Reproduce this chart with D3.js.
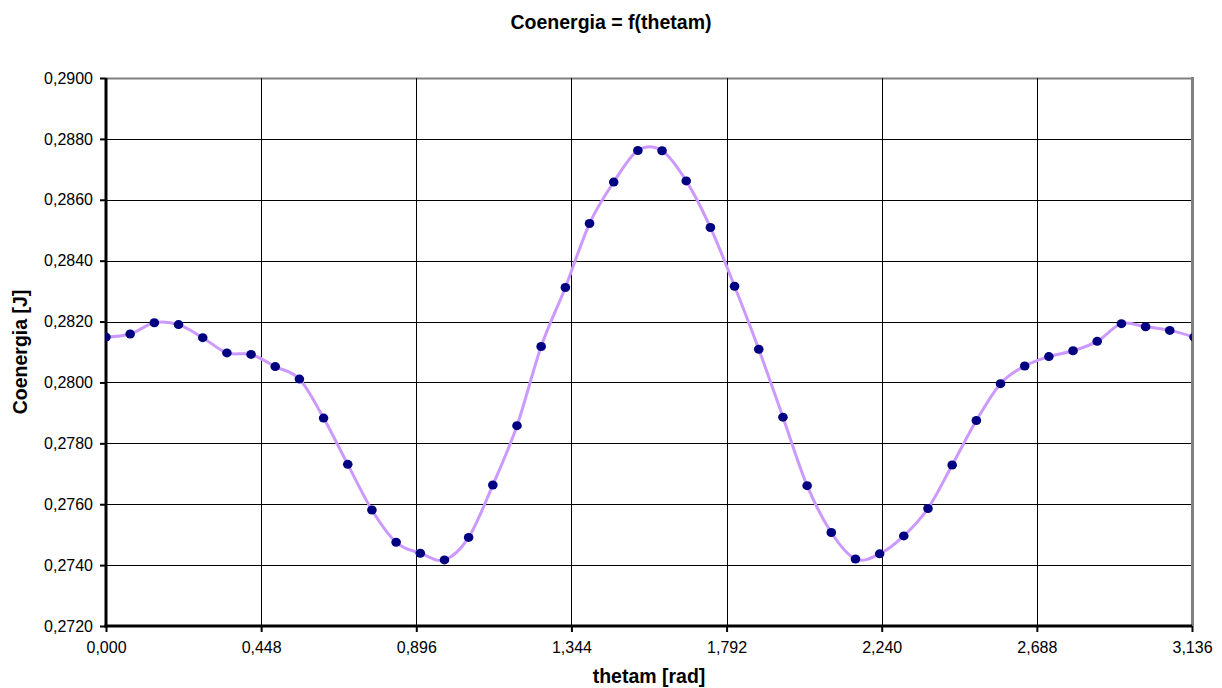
<!DOCTYPE html>
<html>
<head>
<meta charset="utf-8">
<script src="https://cdn.jsdelivr.net/npm/d3@7"></script>
<style>
  html, body { margin: 0; padding: 0; background: #fff; }
  svg { display: block; font-family: "Liberation Sans", Arial, sans-serif; }
</style>
</head>
<body>
<svg id="chart" width="1222" height="688"></svg>
<script>
// ---- data ----
const thetam = [0.0000, 0.0698, 0.1396, 0.2094, 0.2793, 0.3491, 0.4189, 0.4887, 0.5585, 0.6283,
  0.6981, 0.7679, 0.8378, 0.9076, 0.9774, 1.0472, 1.1170, 1.1868, 1.2566, 1.3265,
  1.3963, 1.4661, 1.5359, 1.6057, 1.6755, 1.7453, 1.8151, 1.8850, 1.9548, 2.0246,
  2.0944, 2.1642, 2.2340, 2.3038, 2.3736, 2.4435, 2.5133, 2.5831, 2.6529, 2.7227,
  2.7925, 2.8623, 2.9322, 3.0020, 3.0718, 3.1416];
const coenergia = [0.28149, 0.28159, 0.28196, 0.28190, 0.28147, 0.28097, 0.28092, 0.28052, 0.28011, 0.27883,
  0.27731, 0.27581, 0.27475, 0.27439, 0.27417, 0.27491, 0.27663, 0.27858, 0.28118, 0.28312,
  0.28522, 0.28658, 0.28762, 0.28761, 0.28662, 0.28509, 0.28316, 0.28109, 0.27886, 0.27661,
  0.27507, 0.27420, 0.27437, 0.27496, 0.27586, 0.27729, 0.27875, 0.27996, 0.28054, 0.28085,
  0.28104, 0.28135, 0.28193, 0.28183, 0.28171, 0.28149];
const xTicks = [0, 0.448, 0.896, 1.344, 1.792, 2.240, 2.688, 3.136];
const yTicks = [0.272, 0.274, 0.276, 0.278, 0.280, 0.282, 0.284, 0.286, 0.288, 0.290];
const titleText = "Coenergia = f(thetam)";
const xTitle = "thetam [rad]";
const yTitle = "Coenergia [J]";

// ---- layout ----
const pLeft = 106, pRight = 1192, pTop = 78, pBottom = 626;
const svg = d3.select("#chart");
const x = d3.scaleLinear().domain([0, 3.136]).range([pLeft, pRight]);
const y = d3.scaleLinear().domain([0.272, 0.290]).range([pBottom, pTop]);
const fmtX = v => d3.format(".3f")(v).replace(".", ",");
const fmtY = v => d3.format(".4f")(v).replace(".", ",");

svg.append("defs").append("clipPath").attr("id", "clip")
  .append("rect").attr("x", pLeft).attr("y", pTop - 2).attr("width", pRight - pLeft).attr("height", pBottom - pTop + 4);

// gridlines
const grid = svg.append("g");
grid.selectAll("line.h").data(yTicks.slice(1)).join("line")
  .attr("x1", pLeft).attr("x2", pRight)
  .attr("y1", d => Math.round(y(d)) + 0.5).attr("y2", d => Math.round(y(d)) + 0.5)
  .attr("stroke", d => d === 0.290 ? "#808080" : "#000").attr("stroke-width", d => d === 0.290 ? 2 : 1);
grid.selectAll("line.v").data(xTicks.slice(1, -1)).join("line")
  .attr("y1", pTop).attr("y2", pBottom)
  .attr("x1", d => Math.round(x(d)) + 0.5).attr("x2", d => Math.round(x(d)) + 0.5)
  .attr("stroke", "#000").attr("stroke-width", 1);
// right border
svg.append("line").attr("x1", pRight + 0.5).attr("x2", pRight + 0.5).attr("y1", pTop - 1).attr("y2", pBottom)
  .attr("stroke", "#808080").attr("stroke-width", 3);

// axes
const yAxis = d3.axisLeft(y).tickValues(yTicks).tickFormat(fmtY).tickSize(6).tickPadding(7);
const xAxis = d3.axisBottom(x).tickValues(xTicks).tickFormat(fmtX).tickSize(6).tickPadding(10);

const gy = svg.append("g").attr("transform", `translate(${pLeft},0)`).call(yAxis);
const gx = svg.append("g").attr("transform", `translate(0,${pBottom})`).call(xAxis);
[gx, gy].forEach(g => {
  g.select(".domain").attr("stroke", "#000").attr("stroke-width", 3);
  g.selectAll(".tick line").attr("stroke", "#000").attr("stroke-width", 2);
  g.selectAll(".tick text").attr("fill", "#000").style("font-size", "16px")
    .style("font-family", '"Liberation Sans", Arial, sans-serif');
});
gy.select(".domain").attr("d", `M0,${pTop}V${pBottom + 1.5}`);
gx.select(".domain").attr("d", `M${pLeft - 1.5},0H${pRight}`);

// series
const pts = thetam.map((t, i) => [t, coenergia[i]]);
const plot = svg.append("g").attr("clip-path", "url(#clip)");
plot.append("path").datum(pts)
  .attr("fill", "none").attr("stroke", "#CC99FF").attr("stroke-width", 3)
  .attr("d", d3.line().x(d => x(d[0])).y(d => y(d[1])).curve(d3.curveCardinal.tension(0)));
plot.selectAll("ellipse").data(pts).join("ellipse")
  .attr("cx", d => x(d[0])).attr("cy", d => y(d[1])).attr("rx", 4.8).attr("ry", 4.5)
  .attr("fill", "#000080");

// titles
svg.append("text").attr("x", 611).attr("y", 29).attr("text-anchor", "middle")
  .style("font-size", "19.5px").style("font-weight", "bold").text(titleText);
svg.append("text").attr("x", (pLeft + pRight) / 2).attr("y", 683).attr("text-anchor", "middle")
  .style("font-size", "19.5px").style("font-weight", "bold").text(xTitle);
svg.append("text").attr("transform", `translate(27,${(pTop + pBottom) / 2}) rotate(-90)`)
  .attr("text-anchor", "middle")
  .style("font-size", "19.5px").style("font-weight", "bold").text(yTitle);
</script>
</body>
</html>
